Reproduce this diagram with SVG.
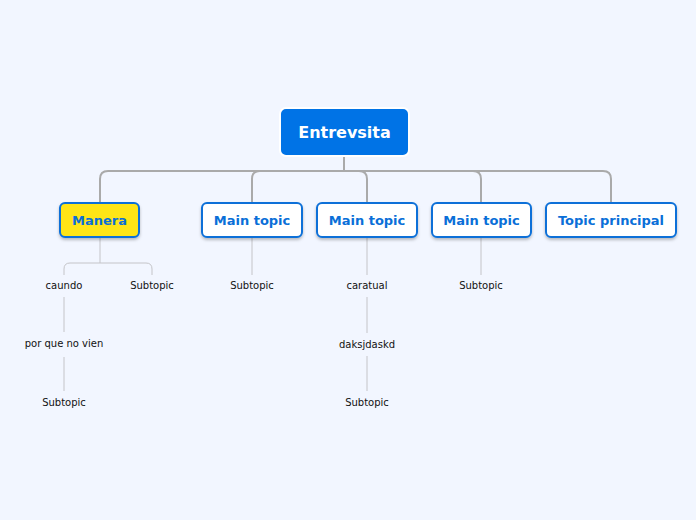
<svg xmlns="http://www.w3.org/2000/svg" width="696" height="520" viewBox="0 0 696 520">
<defs><style>
.t{fill:#fff;stroke:#0a6fd8;stroke-width:2}
.tl{font-family:"DejaVu Sans",sans-serif;font-weight:bold;font-size:13px;fill:#0a6fd8;text-anchor:middle}
.s{font-family:"DejaVu Sans",sans-serif;font-size:10px;fill:#111;text-anchor:middle}
.c{fill:none;stroke:#aaa;stroke-width:2}
.cs{fill:none;stroke:#c4c4c8;stroke-width:1}
</style>
<filter id="sh" x="-10%" y="-10%" width="130%" height="140%"><feDropShadow dx="0" dy="2" stdDeviation="1.5" flood-color="#000" flood-opacity="0.25"/></filter></defs>
<rect width="696" height="520" fill="#f2f6ff"/>
<g id="connectors">
<path class="c" d="M344 155V171M100 202V179Q100 171 108 171H603Q611 171 611 179V202M252 202V179Q252 171 260 171H359Q367 171 367 179V202M481 202V179Q481 171 473 171"/>
<path class="cs" d="M100 237V263M64 275V269Q64 263 70 263H146Q152 263 152 269V275M64 297V332M64 357V391M252 237V275M367 237V275M367 297V333M367 356V391M481 237V275"/>
</g>
<g id="root"><rect x="280" y="108" width="129" height="48" rx="6" fill="#0073e6" stroke="#fff" stroke-width="2"/><text x="344.5" y="138" font-family="DejaVu Sans,sans-serif" font-weight="bold" font-size="16" fill="#fff" text-anchor="middle">Entrevsita</text></g>
<g id="manera"><rect x="60" y="203" width="79" height="34" rx="5" fill="#ffe512" stroke="#0a6fd8" stroke-width="2" filter="url(#sh)"/><text class="tl" x="99.5" y="225">Manera</text></g>
<g id="mt1"><rect class="t" x="202" y="203" width="100" height="34" rx="5" filter="url(#sh)"/><text class="tl" x="252" y="225">Main topic</text></g>
<g id="mt2"><rect class="t" x="317" y="203" width="100" height="34" rx="5" filter="url(#sh)"/><text class="tl" x="367" y="225">Main topic</text></g>
<g id="mt3"><rect class="t" x="432" y="203" width="99" height="34" rx="5" filter="url(#sh)"/><text class="tl" x="481.5" y="225">Main topic</text></g>
<g id="tp"><rect class="t" x="546" y="203" width="130" height="34" rx="5" filter="url(#sh)"/><text class="tl" x="611" y="225">Topic principal</text></g>
<g id="s1"><text class="s" x="64" y="289">caundo</text></g>
<g id="s2"><text class="s" x="152" y="289">Subtopic</text></g>
<g id="s3"><text class="s" x="64" y="347">por que no vien</text></g>
<g id="s4"><text class="s" x="64" y="406">Subtopic</text></g>
<g id="s5"><text class="s" x="252" y="289">Subtopic</text></g>
<g id="s6"><text class="s" x="367" y="289">caratual</text></g>
<g id="s7"><text class="s" x="367" y="348">daksjdaskd</text></g>
<g id="s8"><text class="s" x="367" y="406">Subtopic</text></g>
<g id="s9"><text class="s" x="481" y="289">Subtopic</text></g>
</svg>
